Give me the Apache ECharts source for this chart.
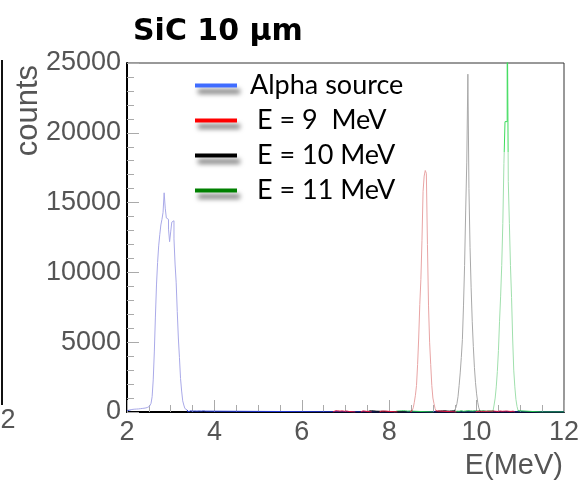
<!DOCTYPE html>
<html>
<head>
<meta charset="utf-8">
<script src="https://cdn.jsdelivr.net/npm/echarts@6/dist/echarts.min.js"></script>
<style>
  html, body { margin: 0; padding: 0; background: #fff; }
  #chart { width: 583px; height: 483px; }
</style>
</head>
<body>
<div id="chart"></div>
<script>
// histogram bins, width 0.025 MeV
const binWidth = 0.025;
const xTicks = [2, 4, 6, 8, 10, 12];
const yTicks = [0, 5000, 10000, 15000, 20000, 25000];

const seriesNames = ['Alpha source', 'E = 9  MeV', 'E = 10 MeV', 'E = 11 MeV'];

// each segment: [first bin centre, counts...]
const alphaSegments = [
  [2.0125, [100, 120, 150, 170, 180, 190, 200, 200, 210, 220,
            220, 230, 240, 250, 260, 270, 280, 300, 320, 360,
            400, 480, 620, 1100, 2300, 4300, 6800, 9100, 10700, 11900,
            12700, 13400, 13800, 14300, 15700, 14600, 13900, 13800, 13100, 12200,
            12900, 13600, 13700, 12400, 10600, 9300, 7200, 5300, 3900, 2400,
            1500, 800, 500, 250, 150, 60, 0, 40, 80, 60,
            90, 70, 80, 60, 90, 70, 80, 60, 70, 80,
            90, 60, 0]]
];
const alphaEnd = 12;

const redSegments = [
  [6.7125, [0, 70, 90, 60, 80, 50, 0, 60, 80, 70, 50, 60, 70, 60, 40, 80, 0]],
  [7.3625, [0, 80, 60, 0]],
  [7.7875, [0, 60, 90, 50, 70, 0]],
  [8.4875, [0, 100, 150, 300, 700, 1200, 1900, 3400, 5300, 7700,
            9500, 12300, 15800, 16900, 17300, 17100, 12000, 7600, 5000, 3400,
            1900, 1000, 600, 250, 80, 0]],
  [9.9875, [0, 40, 60, 50, 40, 70, 50, 60, 40, 50, 60, 70, 50, 40, 60, 50,
            70, 40, 50, 60, 40, 50, 70, 60, 50, 40, 60, 50, 70, 40, 50, 60, 40, 50, 60, 50, 0]]
];

const blackSegments = [
  [7.4875, [0, 60, 80, 70, 90, 60, 80, 70, 60, 80, 0]],
  [9.0875, [0, 60, 80, 70, 60, 80, 70, 90, 60, 70, 80, 60, 70, 80, 90,
            50, 80, 150, 300, 600, 1100, 1900, 2800, 3900, 5200,
            7600, 10500, 14400, 17900, 24200, 16000, 11800, 8900, 6500, 4700,
            3200, 2100, 1300, 700, 300, 100, 0]]
];

const greenSegments = [
  [8.1125, [0, 80, 60, 90, 70, 60, 80, 70, 90, 60, 80, 70, 60, 80, 70, 90, 60, 0]],
  [9.5125, [0, 60, 80, 50, 70, 90, 60, 50, 80, 70, 60, 90, 50, 70, 80, 60,
            70, 50, 90, 60, 80, 70, 50, 60, 80, 70, 90, 60, 50, 70, 80, 60, 70, 50,
            60, 150, 500, 1000, 1800, 2900, 4400, 6500, 8300, 10500,
            13500, 17800, 20800, 20800, 30000, 16500, 13500, 10500, 8200, 5300,
            3000, 1800, 900, 400, 90, 0]]
];
const greenEnd = 12;

function hist(segments, end) {
  const out = [];
  segments.forEach((seg, k) => {
    if (k > 0) out.push([seg[0] - binWidth, null]);
    seg[1].forEach((c, i) => out.push([+(seg[0] + i * binWidth).toFixed(4), c]));
  });
  if (end != null) out.push([end, 0]);
  return out;
}

// light histogram line, saturated near the baseline (pixel gradient)
function shade(dark, light, bright) {
  const low = 410.5 / 483;
  const stops = [];
  if (bright) {
    const top = 152 / 483;
    stops.push({ offset: 0, color: bright }, { offset: top, color: bright }, { offset: top, color: light });
  } else {
    stops.push({ offset: 0, color: light });
  }
  stops.push({ offset: low, color: light }, { offset: low, color: dark }, { offset: 1, color: dark });
  return new echarts.graphic.LinearGradient(0, 0, 0, 483, stops, true);
}

const chart = echarts.init(document.getElementById('chart'));

const tickFont = { fontFamily: 'Liberation Sans', fontSize: 27, color: '#555' };

function histSeries(name, data, color) {
  return {
    name: name,
    type: 'line',
    step: 'middle',
    showSymbol: false,
    connectNulls: false,
    animation: false,
    lineStyle: { width: 1, color: color },
    data: data
  };
}

const option = {
  animation: false,
  backgroundColor: '#fff',
  title: {
    text: 'SiC 10 μm',
    left: 128,
    top: 12,
    textStyle: { fontFamily: 'DejaVu Sans', fontWeight: 'bold', fontSize: 30, color: '#000' }
  },
  grid: {
    left: 127, right: 19, top: 63, bottom: 71,
    show: true, borderColor: '#333', borderWidth: 1
  },
  legend: {
    orient: 'vertical',
    left: 190,
    top: 67,
    icon: 'rect',
    itemWidth: 42,
    itemHeight: 4,
    itemGap: 8,
    formatter: name => name === 'Alpha source' ? name : ' ' + name,
    textStyle: {
      fontFamily: 'Lato', fontSize: 27, color: '#000', lineHeight: 27,
      padding: [0, 0, 0, 8]
    },
    itemStyle: {
      borderWidth: 0,
      shadowBlur: 5, shadowOffsetX: 3, shadowOffsetY: 6,
      shadowColor: 'rgba(0,0,0,0.6)'
    },
    data: [
      { name: seriesNames[0], itemStyle: { color: '#3f6cff' } },
      { name: seriesNames[1], itemStyle: { color: '#ff0000' } },
      { name: seriesNames[2], itemStyle: { color: '#000000' } },
      { name: seriesNames[3], itemStyle: { color: '#008000' } }
    ]
  },
  xAxis: {
    type: 'value',
    min: xTicks[0],
    max: xTicks[xTicks.length - 1],
    interval: 2,
    axisLine: { lineStyle: { color: '#000', width: 2 } },
    axisTick: { inside: true, length: 12, lineStyle: { color: '#aaa' } },
    minorTick: { show: true, splitNumber: 4, length: 7, lineStyle: { color: '#aaa' } },
    splitLine: { show: false },
    axisLabel: Object.assign({ margin: 7, formatter: v => String(v) }, tickFont)
  },
  yAxis: {
    type: 'value',
    min: yTicks[0],
    max: yTicks[yTicks.length - 1],
    interval: 5000,
    axisLine: { show: true, lineStyle: { color: '#000', width: 2 } },
    axisTick: { show: true, inside: true, length: 12, lineStyle: { color: '#aaa' } },
    minorTick: { show: true, splitNumber: 5, length: 7, lineStyle: { color: '#aaa' } },
    splitLine: { show: false },
    axisLabel: Object.assign({ margin: 6, formatter: v => String(v) }, tickFont)
  },
  series: [
    histSeries(seriesNames[0], hist(alphaSegments, alphaEnd), shade('#2238d8', '#a9a9e8')),
    histSeries(seriesNames[3], hist(greenSegments, greenEnd), shade('#22c24a', '#9fdfac', '#3ddc5c')),
    histSeries(seriesNames[2], hist(blackSegments), shade('#111111', '#a8a8a8')),
    histSeries(seriesNames[1], hist(redSegments), shade('#e0103a', '#e8a4a4'))
  ],
  graphic: [
    { type: 'text', x: 28, y: 65, rotation: Math.PI / 2,
      style: { text: 'counts', align: 'right', verticalAlign: 'middle',
               font: '31px "Liberation Sans"', fill: '#555' } },
    { type: 'text', x: 563, y: 466,
      style: { text: 'E(MeV)', align: 'right', verticalAlign: 'middle',
               font: '29px "Liberation Sans"', fill: '#555' } },
    { type: 'line', shape: { x1: 2, y1: 60, x2: 2, y2: 405 },
      style: { stroke: '#111', lineWidth: 2 } },
    { type: 'text', x: 8, y: 421,
      style: { text: '2', align: 'center', verticalAlign: 'middle',
               font: '27px "Liberation Sans"', fill: '#555' } }
  ]
};

chart.setOption(option);
</script>
</body>
</html>
